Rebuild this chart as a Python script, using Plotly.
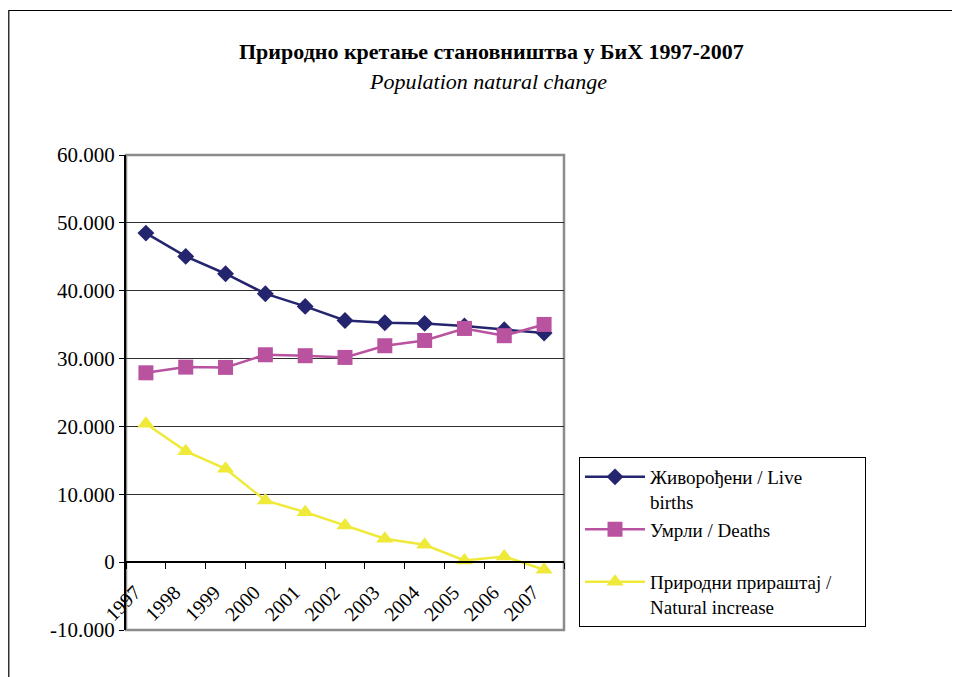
import plotly.graph_objects as go

years = ["1997", "1998", "1999", "2000", "2001", "2002", "2003", "2004", "2005", "2006", "2007"]
live_births = [48490, 45060, 42500, 39560, 37690, 35620, 35280, 35180, 34790, 34250, 33750]
deaths = [27900, 28740, 28700, 30560, 30420, 30170, 31890, 32670, 34440, 33370, 35030]
natural_increase = [20400, 16360, 13760, 9090, 7370, 5410, 3450, 2560, 250, 840, -1120]

ytick_vals = [-10000, 0, 10000, 20000, 30000, 40000, 50000, 60000]
ytick_text = ["-10.000", "0", "10.000", "20.000", "30.000", "40.000", "50.000", "60.000"]

name_live = "Живорођени / Live<br>births"
name_deaths = "Умрли / Deaths<br> "
name_ni = "Природни прираштај /\u00a0\u00a0\u00a0\u00a0\u00a0\u00a0<br>Natural increase"

title_main = "<b>Природно кретање становништва у БиХ 1997-2007</b>"
title_sub = "<i>Population natural change</i>"

FONT = "Liberation Serif, Times New Roman, serif"
OFF = 8  # page body margin
W, H = 960, 677
# target plot area in page pixels
L, R, T, B = 126, 564, 155, 630
pw, ph = R - L, B - T

def px_x(x):
    return (x - L) / pw

def px_y(y):
    return (B - y) / ph

fig = go.Figure()
fig.add_trace(go.Scatter(x=years, y=live_births, name=name_live, mode="lines+markers",
                         line=dict(color="#25256F", width=2.5),
                         marker=dict(symbol="diamond", size=13, color="#25256F")))
fig.add_trace(go.Scatter(x=years, y=deaths, name=name_deaths, mode="lines+markers",
                         line=dict(color="#B9529F", width=2.5),
                         marker=dict(symbol="square", size=15, color="#B9529F")))
fig.add_trace(go.Scatter(x=years, y=natural_increase, name=name_ni, mode="lines+markers",
                         line=dict(color="#EFEA3A", width=2.5),
                         marker=dict(symbol="triangle-up", size=15, color="#EFEA3A")))

ymin, ymax = ytick_vals[0], ytick_vals[-1]
zero_pos = (0 - ymin) / (ymax - ymin)

fig.update_layout(
    width=W, height=H,
    margin=dict(l=L - OFF, r=W - (R - OFF), t=T - OFF, b=H - (B - OFF), autoexpand=False),
    paper_bgcolor="white", plot_bgcolor="white",
    font=dict(family=FONT, size=20, color="black"),
    showlegend=True,
    legend=dict(x=px_x(579), y=px_y(457), xanchor="left", yanchor="top",
                bordercolor="black", borderwidth=1, bgcolor="white",
                font=dict(family=FONT, size=19, color="black"),
                valign="top", itemwidth=60, tracegroupgap=5),
    xaxis=dict(type="category", range=[-0.5, 10.5], anchor="free", position=zero_pos,
               showline=True, linecolor="black", linewidth=1.5,
               ticks="outside", tickson="boundaries", ticklen=6, tickcolor="black",
               tickangle=-45, showgrid=False, zeroline=False,
               ticklabelstandoff=10, ticklabelshift=-11,
               tickfont=dict(family=FONT, size=20, color="black")),
    yaxis=dict(range=[ymin, ymax], tickvals=ytick_vals, ticktext=ytick_text,
               showgrid=True, gridcolor="#303030", gridwidth=1,
               showline=True, linecolor="black", linewidth=2,
               ticks="outside", ticklen=5, tickcolor="black", zeroline=False,
               tickfont=dict(family=FONT, size=21, color="black")),
    shapes=[
        dict(type="rect", xref="paper", yref="paper", x0=0, x1=1, y0=0, y1=1,
             line=dict(color="#8C8C8C", width=2.5), layer="below"),
        dict(type="rect", xref="paper", yref="paper",
             x0=px_x(8.8), x1=px_x(990), y0=px_y(700), y1=px_y(10.5),
             line=dict(color="black", width=1.2), layer="below"),
    ],
    annotations=[
        dict(text=title_main, xref="paper", yref="paper", x=px_x(491), y=px_y(52),
             xanchor="center", yanchor="middle", showarrow=False,
             font=dict(family=FONT, size=22, color="black")),
        dict(text=title_sub, xref="paper", yref="paper", x=px_x(488), y=px_y(81),
             xanchor="center", yanchor="middle", showarrow=False,
             font=dict(family=FONT, size=22, color="black")),
    ],
)

fig.write_html("out.html")
